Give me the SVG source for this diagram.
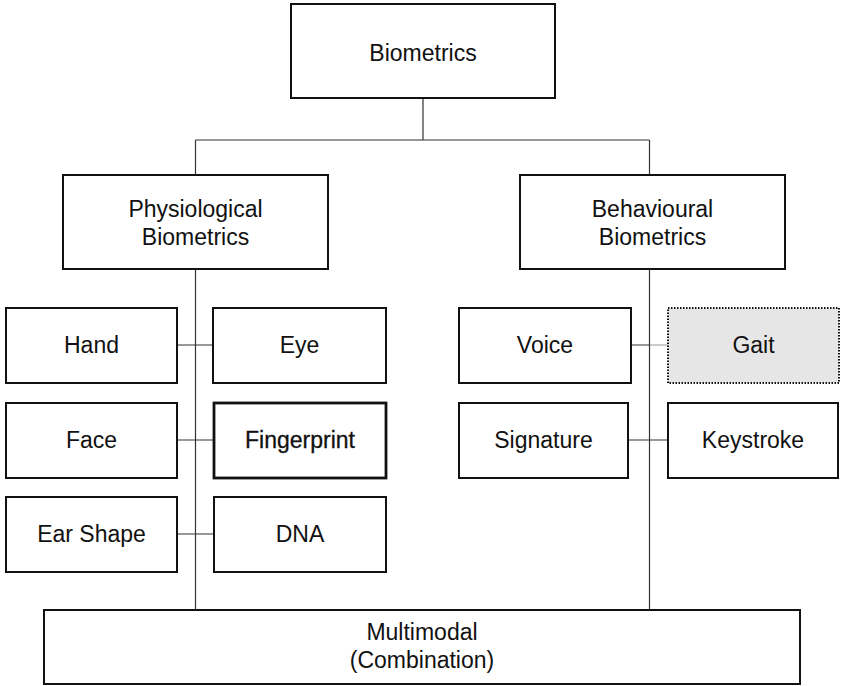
<svg xmlns="http://www.w3.org/2000/svg" width="841" height="686" viewBox="0 0 841 686">
<style>
.box{fill:#fff;stroke:#111;stroke-width:2}
.thick{stroke-width:2.8}
.gait{fill:#e6e6e6;stroke:#111;stroke-width:2;stroke-dasharray:1.5 1.5}
.t{font-family:"Liberation Sans",Arial,Helvetica,sans-serif;font-size:23px;fill:#111;text-anchor:middle}
.bold{stroke:#111;stroke-width:0.3}
.c{stroke:#333;stroke-width:1.2;fill:none}
.dot{stroke:#333;stroke-width:1.2;stroke-dasharray:1 1;fill:none}
</style>
<rect width="841" height="686" fill="#fff"/>
<g id="connectors">
<path class="c" d="M423 98V140M195.5 140H649.5M195.5 140V175M649.5 140V175"/>
<path class="c" d="M195.5 269V610M649.5 269V610"/>
<path class="c" d="M177 345H213M177 440H214M177 534H214"/>
<path class="c" d="M631 345H649.5M628 440H668"/>
<path class="dot" d="M649.5 345H668"/>
</g>
<g id="biometrics"><rect class="box" x="291" y="4" width="264" height="94"/><text class="t" x="423" y="61">Biometrics</text></g>
<g id="physiological"><rect class="box" x="63" y="175" width="265" height="94"/><text class="t" x="195.5" y="217">Physiological</text><text class="t" x="195.5" y="245">Biometrics</text></g>
<g id="behavioural"><rect class="box" x="520" y="175" width="265" height="94"/><text class="t" x="652.5" y="217">Behavioural</text><text class="t" x="652.5" y="245">Biometrics</text></g>
<g id="hand"><rect class="box" x="6" y="308" width="171" height="75"/><text class="t" x="91.5" y="353">Hand</text></g>
<g id="eye"><rect class="box" x="213" y="308" width="173" height="75"/><text class="t" x="299.5" y="353">Eye</text></g>
<g id="face"><rect class="box" x="6" y="403" width="171" height="75"/><text class="t" x="91.5" y="448">Face</text></g>
<g id="fingerprint"><rect class="box thick" x="214" y="403" width="172" height="75"/><text class="t bold" x="300" y="448">Fingerprint</text></g>
<g id="ear-shape"><rect class="box" x="6" y="497" width="171" height="75"/><text class="t" x="91.5" y="542">Ear Shape</text></g>
<g id="dna"><rect class="box" x="214" y="497" width="172" height="75"/><text class="t" x="300" y="542">DNA</text></g>
<g id="voice"><rect class="box" x="459" y="308" width="172" height="75"/><text class="t" x="545" y="353">Voice</text></g>
<g id="gait"><rect class="gait" x="668" y="308" width="171" height="75"/><text class="t" x="753.5" y="353">Gait</text></g>
<g id="signature"><rect class="box" x="459" y="403" width="169" height="75"/><text class="t" x="543.5" y="448">Signature</text></g>
<g id="keystroke"><rect class="box" x="668" y="403" width="170" height="75"/><text class="t" x="753" y="448">Keystroke</text></g>
<g id="multimodal"><rect class="box" x="44" y="610" width="756" height="74"/><text class="t" x="422" y="640">Multimodal</text><text class="t" x="422" y="668">(Combination)</text></g>
</svg>
